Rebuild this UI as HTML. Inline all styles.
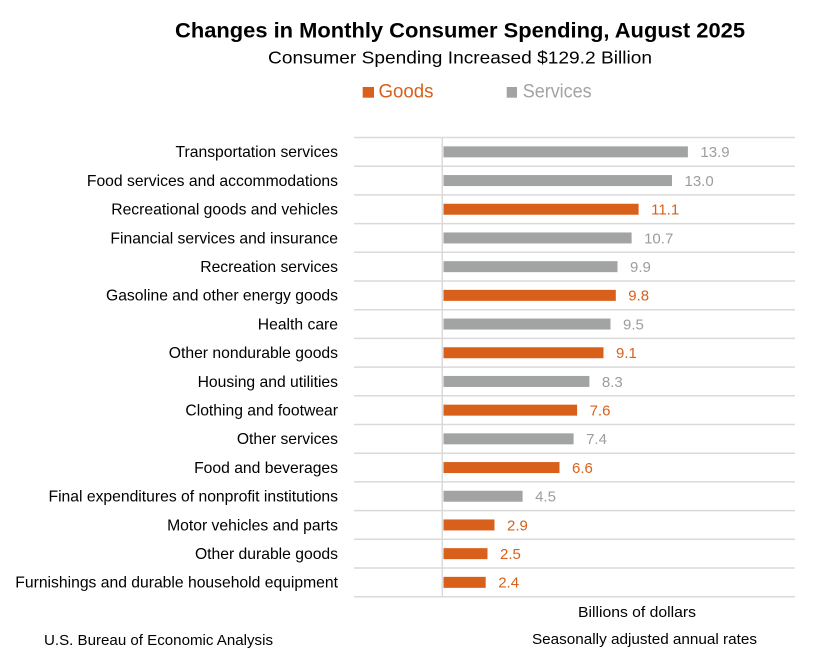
<!DOCTYPE html>
<html><head><meta charset="utf-8"><style>
html,body{margin:0;padding:0;background:#fff;}
svg{display:block;}
text{font-family:"Liberation Sans",Arial,sans-serif;}
</style></head><body>
<svg width="820" height="670" viewBox="0 0 820 670" xmlns="http://www.w3.org/2000/svg">
<rect width="820" height="670" fill="#fff"/>
<text x="175" y="37.7" font-size="21.5" font-weight="bold" fill="#000" textLength="570" lengthAdjust="spacingAndGlyphs">Changes in Monthly Consumer Spending, August 2025</text>
<text x="268" y="63.5" font-size="17.5" fill="#000" textLength="384" lengthAdjust="spacingAndGlyphs">Consumer Spending Increased $129.2 Billion</text>
<rect x="362.7" y="87" width="11.3" height="10.7" fill="#D8601B"/>
<text x="378.5" y="97.7" font-size="19" fill="#D8601B" textLength="55" lengthAdjust="spacingAndGlyphs">Goods</text>
<rect x="506.7" y="87" width="10.3" height="10.7" fill="#A2A4A4"/>
<text x="522.7" y="97.7" font-size="19" fill="#A2A4A4" textLength="69" lengthAdjust="spacingAndGlyphs">Services</text>
<g stroke="#DADADA" stroke-width="1.5">
<line x1="354" x2="795" y1="137.5" y2="137.5"/>
<line x1="354" x2="795" y1="166.2" y2="166.2"/>
<line x1="354" x2="795" y1="194.9" y2="194.9"/>
<line x1="354" x2="795" y1="223.6" y2="223.6"/>
<line x1="354" x2="795" y1="252.3" y2="252.3"/>
<line x1="354" x2="795" y1="281.0" y2="281.0"/>
<line x1="354" x2="795" y1="309.7" y2="309.7"/>
<line x1="354" x2="795" y1="338.4" y2="338.4"/>
<line x1="354" x2="795" y1="367.1" y2="367.1"/>
<line x1="354" x2="795" y1="395.8" y2="395.8"/>
<line x1="354" x2="795" y1="424.5" y2="424.5"/>
<line x1="354" x2="795" y1="453.2" y2="453.2"/>
<line x1="354" x2="795" y1="481.9" y2="481.9"/>
<line x1="354" x2="795" y1="510.6" y2="510.6"/>
<line x1="354" x2="795" y1="539.3" y2="539.3"/>
<line x1="354" x2="795" y1="568.0" y2="568.0"/>
<line x1="354" x2="795" y1="596.7" y2="596.7"/>
<line x1="442.3" x2="442.3" y1="137" y2="597"/>
</g>
<g font-size="15.7" fill="#000" text-anchor="end">
<text x="338" y="157.2">Transportation services</text>
<text x="338" y="185.9">Food services and accommodations</text>
<text x="338" y="214.6">Recreational goods and vehicles</text>
<text x="338" y="243.3">Financial services and insurance</text>
<text x="338" y="272.0">Recreation services</text>
<text x="338" y="300.7">Gasoline and other energy goods</text>
<text x="338" y="329.4">Health care</text>
<text x="338" y="358.1">Other nondurable goods</text>
<text x="338" y="386.8">Housing and utilities</text>
<text x="338" y="415.5">Clothing and footwear</text>
<text x="338" y="444.2">Other services</text>
<text x="338" y="472.9">Food and beverages</text>
<text x="338" y="501.6">Final expenditures of nonprofit institutions</text>
<text x="338" y="530.3">Motor vehicles and parts</text>
<text x="338" y="559.0">Other durable goods</text>
<text x="338" y="587.7">Furnishings and durable household equipment</text>
</g>
<g>
<rect x="443.5" y="146.35" width="244.4" height="11" fill="#A2A4A4"/>
<rect x="443.5" y="175.05" width="228.5" height="11" fill="#A2A4A4"/>
<rect x="443.5" y="203.75" width="195.1" height="11" fill="#D8601B"/>
<rect x="443.5" y="232.45" width="188.1" height="11" fill="#A2A4A4"/>
<rect x="443.5" y="261.15" width="174.0" height="11" fill="#A2A4A4"/>
<rect x="443.5" y="289.85" width="172.3" height="11" fill="#D8601B"/>
<rect x="443.5" y="318.55" width="167.0" height="11" fill="#A2A4A4"/>
<rect x="443.5" y="347.25" width="160.0" height="11" fill="#D8601B"/>
<rect x="443.5" y="375.95" width="145.9" height="11" fill="#A2A4A4"/>
<rect x="443.5" y="404.65" width="133.6" height="11" fill="#D8601B"/>
<rect x="443.5" y="433.35" width="130.1" height="11" fill="#A2A4A4"/>
<rect x="443.5" y="462.05" width="116.0" height="11" fill="#D8601B"/>
<rect x="443.5" y="490.75" width="79.1" height="11" fill="#A2A4A4"/>
<rect x="443.5" y="519.45" width="51.0" height="11" fill="#D8601B"/>
<rect x="443.5" y="548.15" width="44.0" height="11" fill="#D8601B"/>
<rect x="443.5" y="576.85" width="42.2" height="11" fill="#D8601B"/>
</g>
<g font-size="15">
<text x="700.4" y="157.2" fill="#9C9E9E">13.9</text>
<text x="684.5" y="185.9" fill="#9C9E9E">13.0</text>
<text x="651.1" y="214.6" fill="#D8601B">11.1</text>
<text x="644.1" y="243.3" fill="#9C9E9E">10.7</text>
<text x="630.0" y="272.0" fill="#9C9E9E">9.9</text>
<text x="628.3" y="300.7" fill="#D8601B">9.8</text>
<text x="623.0" y="329.4" fill="#9C9E9E">9.5</text>
<text x="616.0" y="358.1" fill="#D8601B">9.1</text>
<text x="601.9" y="386.8" fill="#9C9E9E">8.3</text>
<text x="589.6" y="415.5" fill="#D8601B">7.6</text>
<text x="586.1" y="444.2" fill="#9C9E9E">7.4</text>
<text x="572.0" y="472.9" fill="#D8601B">6.6</text>
<text x="535.1" y="501.6" fill="#9C9E9E">4.5</text>
<text x="507.0" y="530.3" fill="#D8601B">2.9</text>
<text x="500.0" y="559.0" fill="#D8601B">2.5</text>
<text x="498.2" y="587.7" fill="#D8601B">2.4</text>
</g>
<text x="578" y="617" font-size="15" fill="#000" textLength="118" lengthAdjust="spacingAndGlyphs">Billions of dollars</text>
<text x="532" y="644" font-size="15" fill="#000" textLength="225" lengthAdjust="spacingAndGlyphs">Seasonally adjusted annual rates</text>
<text x="44" y="645" font-size="15" fill="#000" textLength="229" lengthAdjust="spacingAndGlyphs">U.S. Bureau of Economic Analysis</text>
</svg>
</body></html>
